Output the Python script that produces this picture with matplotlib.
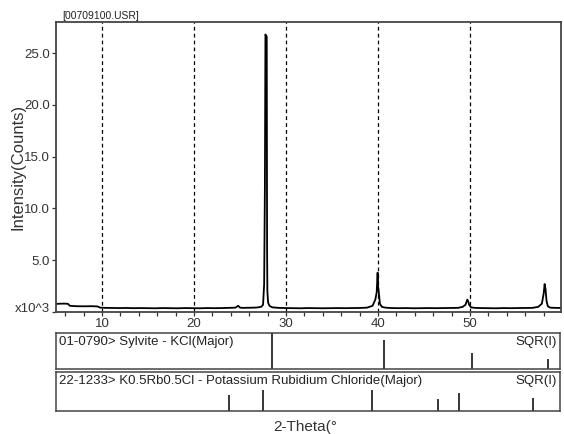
import matplotlib
matplotlib.use("Agg")
import matplotlib.pyplot as plt
import matplotlib.transforms as mtransforms
from matplotlib.ticker import MultipleLocator

plt.rcParams["font.family"] = ["Liberation Sans", "DejaVu Sans"]

# scan (2-theta, counts)
two_theta = [5.0, 5.4, 5.9, 6.3, 6.5, 7.2, 8.0, 8.8, 9.5, 9.8, 10.4, 11.0,
             11.8, 12.6, 13.4, 14.2, 15.0, 15.8, 16.6, 17.4, 18.2, 19.0,
             19.8, 20.6, 21.4, 22.2, 23.0, 23.8, 24.5, 24.8, 25.0, 25.3,
             26.0, 26.8, 27.3, 27.5, 27.62, 27.7, 27.76, 27.8, 27.9, 27.94,
             27.97, 28.05, 28.2, 28.5, 29.2, 30.0, 30.8, 31.6, 32.4, 33.2,
             34.0, 34.8, 35.6, 36.4, 37.2, 38.0, 38.8, 39.4, 39.7, 39.85,
             39.95, 40.0, 40.08, 40.2, 40.4, 40.8, 41.5, 42.3, 43.1, 43.9,
             44.7, 45.5, 46.3, 47.1, 47.9, 48.7, 49.2, 49.5, 49.7, 49.8,
             49.9, 50.1, 50.5, 51.2, 52.0, 52.8, 53.6, 54.4, 55.2, 56.0,
             56.8, 57.4, 57.8, 58.0, 58.1, 58.2, 58.3, 58.45, 58.7, 59.2,
             59.88]
counts = [780, 800, 810, 790, 600, 560, 550, 560, 540, 420, 400, 390,
          380, 390, 370, 380, 370, 360, 380, 370, 360, 380,
          370, 360, 380, 370, 380, 400, 420, 600, 420, 400,
          410, 430, 500, 700, 2700, 12000, 26800, 26700, 26600, 6000,
          2000, 900, 600, 450, 400, 380, 370, 360, 380, 370,
          360, 370, 380, 370, 380, 390, 420, 600, 1200, 1900,
          3800, 2500, 1900, 800, 500, 420, 380, 370, 380, 360,
          370, 380, 370, 380, 390, 400, 500, 700, 1200, 1000,
          700, 450, 400, 380, 370, 360, 380, 370, 380, 390,
          400, 500, 800, 1800, 2700, 2200, 1100, 550, 420, 400,
          390]

# reference patterns (position, sqrt-intensity fraction of panel height)
kcl_pos = [28.57, 40.68, 50.33, 58.6]
kcl_sqr = [1.0, 0.81, 0.46, 0.28]
krbcl_pos = [23.9, 27.6, 39.43, 46.6, 48.9, 56.97]
krbcl_sqr = [0.41, 0.54, 0.54, 0.30, 0.47, 0.32]

y_ticks = [0, 5000, 10000, 15000, 20000, 25000]
y_tick_labels = ["x10^3", "5.0", "10.0", "15.0", "20.0", "25.0"]
x_ticks = [10, 20, 30, 40, 50]

fig = plt.figure(figsize=(5.64, 4.34), dpi=100)
ax = fig.add_axes([0.0993, 0.2811, 0.8954, 0.6682])
ax.plot(two_theta, counts, color="black", lw=1.3)
ax.set_xlim(5.0, 59.88)
ax.set_ylim(0, 28000)

for x in x_ticks:
    ax.axvline(x, color="black", ls=(0, (3, 2.5)), lw=0.9)

ax.set_xticks(x_ticks)
ax.set_xticklabels([str(x) for x in x_ticks])
ax.xaxis.set_minor_locator(MultipleLocator(2))
ax.set_yticks(y_ticks)
ax.set_yticklabels(y_tick_labels)
ax.tick_params(axis="both", which="both", direction="out", length=3,
               width=0.9, colors="#333333", labelsize=9.5, pad=1.5)
for s in ax.spines.values():
    s.set_color("#444444")
    s.set_linewidth(1.3)

# the exponent label sits a little above the zero line
lab0 = ax.get_yticklabels()[0]
lab0.set_transform(lab0.get_transform() +
                   mtransforms.ScaledTranslation(0, 5 / 100, fig.dpi_scale_trans))

ax.text(0.012, 1.004, "[00709100.USR]", transform=ax.transAxes,
        fontsize=7.5, va="bottom", ha="left", color="#222222")
fig.text(18 / 564, 0.615, "Intensity(Counts)", rotation=90, fontsize=12,
         ha="center", va="center", color="#333333")

panels = [
    ([0.0987, 0.1491, 0.8942, 0.0829], kcl_pos, kcl_sqr,
     "01-0790> Sylvite - KCl(Major)"),
    ([0.0987, 0.0537, 0.8942, 0.0885], krbcl_pos, krbcl_sqr,
     "22-1233> K0.5Rb0.5Cl - Potassium Rubidium Chloride(Major)"),
]
for rect, pos, sqr, name in panels:
    pax = fig.add_axes(rect)
    pax.vlines(pos, 0, sqr, color="black", lw=1.1)
    pax.set_xlim(5.0, 59.88)
    pax.set_ylim(0, 1)
    pax.set_xticks([])
    pax.set_yticks([])
    for s in pax.spines.values():
        s.set_color("#444444")
        s.set_linewidth(1.1)
    pax.text(0.006, 0.93, name, transform=pax.transAxes, fontsize=9.5,
             va="top", ha="left", color="#222222")
    pax.text(0.994, 0.93, "SQR(I)", transform=pax.transAxes, fontsize=9.5,
             va="top", ha="right", color="#222222")

fig.text(305 / 564, 1 - 427 / 434, "2-Theta(°", fontsize=11,
         ha="center", va="center", color="#333333")

fig.savefig("out.png", dpi=100)
